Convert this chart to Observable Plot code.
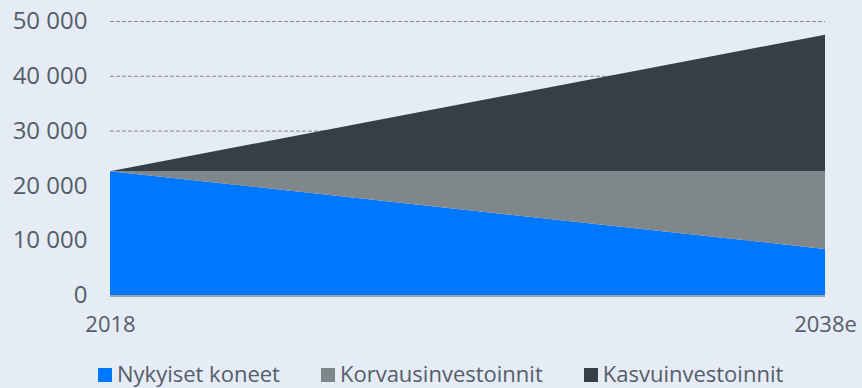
<!DOCTYPE html>
<html>
<head>
<meta charset="utf-8">
<script src="https://cdn.jsdelivr.net/npm/d3@7"></script>
<script src="https://cdn.jsdelivr.net/npm/@observablehq/plot@0.6"></script>
<style>
  html, body { margin: 0; padding: 0; background: #e5ecf6; }
  body { width: 862px; height: 388px; position: relative; overflow: hidden; font-family: "Open Sans", sans-serif; }
  #chart { position: absolute; left: 0; top: 0; }
  #legend { position: absolute; left: 98px; top: 361px; display: flex; gap: 41px; font-size: 22px; color: #565d68; line-height: 24px; white-space: nowrap; }
  #legend .item { display: flex; align-items: center; }
  #legend .sw { width: 14px; height: 14px; margin-right: 5px; margin-top: 3px; }
  #chart svg g[aria-label="y-axis tick label"] text { font-size: 24px; }
</style>
</head>
<body>
<div id="chart"></div>
<div id="legend"></div>
<script>
const years = [2018, 2038];
const yearLabels = ["2018", "2038e"];
const seriesNames = ["Nykyiset koneet", "Korvausinvestoinnit", "Kasvuinvestoinnit"];
const seriesColors = ["#0077ff", "#7f878b", "#343f47"];
const nykyiset = [22600, 8400];
const korvaus = [0, 14200];
const kasvu = [0, 24900];
const yTicks = [0, 10000, 20000, 30000, 40000, 50000];

const seriesValues = [nykyiset, korvaus, kasvu];
const data = [];
seriesNames.forEach((name, i) => {
  years.forEach((yr, j) => data.push({year: yr, series: name, value: seriesValues[i][j]}));
});

const fmt = d => d === 0 ? "0" : d3.format(",")(d).replace(/,/g, "\u00a0");

const chart = Plot.plot({
  width: 862,
  height: 345,
  marginLeft: 110,
  marginRight: 37,
  marginTop: 21,
  marginBottom: 50,
  style: { background: "transparent", fontFamily: "Open Sans, sans-serif", fontSize: "22px", color: "#565d68" },
  x: { domain: [2018, 2038], ticks: years, tickFormat: (d) => yearLabels[years.indexOf(d)], tickSize: 0, tickPadding: 21, label: null },
  y: { domain: [0, 50000], ticks: yTicks, tickFormat: fmt, tickSize: 0, tickPadding: 23, label: null },
  color: { domain: seriesNames, range: seriesColors },
  marks: [
    Plot.ruleY(yTicks.filter(d => d > 0), { stroke: "#82878e", strokeDasharray: "4,2", strokeWidth: 1 }),
    Plot.areaY(data, Plot.stackY({ x: "year", y: "value", fill: "series", z: "series", order: seriesNames })),
    Plot.ruleY([0], { stroke: "#7f878b", strokeWidth: 1.5, dy: 0.5 })
  ]
});
document.getElementById("chart").appendChild(chart);

const legend = document.getElementById("legend");
seriesNames.forEach((name, i) => {
  const it = document.createElement("div");
  it.className = "item";
  const sw = document.createElement("span");
  sw.className = "sw";
  sw.style.background = seriesColors[i];
  const tx = document.createElement("span");
  tx.textContent = name;
  it.appendChild(sw); it.appendChild(tx);
  legend.appendChild(it);
});
</script>
</body>
</html>
